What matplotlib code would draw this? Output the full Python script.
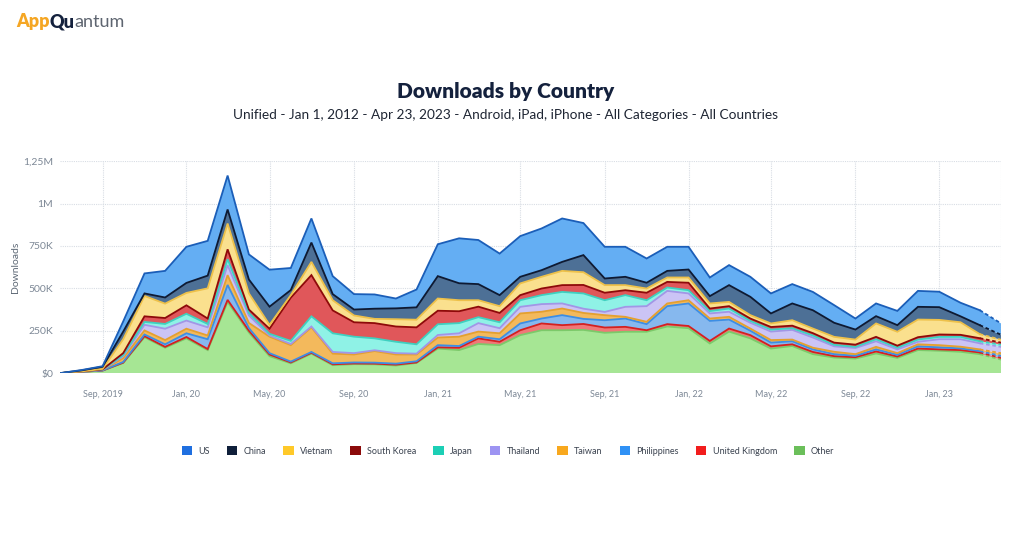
import matplotlib
matplotlib.use("Agg")
import matplotlib.pyplot as plt
from matplotlib.patches import Patch
import numpy as np
import pandas as pd

plt.rcParams["font.family"] = ["Lato", "DejaVu Sans"]

# monthly points, Jul 2019 .. Apr 2023 (values in thousands of downloads)
months = pd.date_range("2019-07-01", "2023-04-01", freq="MS")

other = [0, 8, 15, 60, 212, 150, 205, 136, 420, 240, 100, 58, 115, 47, 53, 52, 45, 60, 145, 136,
         172, 165, 224, 253, 253, 255, 238, 244, 244, 275, 265, 175, 245, 205, 145, 160, 112, 92, 86, 116,
         90, 136, 132, 126, 112, 80]
uk = [0, 0, 0, 2, 6, 5, 8, 6, 12, 10, 10, 5, 5, 5, 4, 4, 5, 3, 7, 14,
      33, 20, 29, 40, 30, 35, 31, 29, 9, 14, 13, 15, 18, 19, 13, 10, 13, 8, 8, 12,
      8, 9, 8, 10, 10, 10]
philippines = [0, 0, 1, 4, 10, 15, 22, 58, 88, 16, 8, 5, 5, 6, 6, 6, 6, 7, 13, 10,
               10, 15, 40, 29, 59, 30, 43, 49, 36, 106, 133, 118, 53, 26, 22, 18, 15, 12, 8, 12,
               10, 13, 12, 10, 8, 12]
taiwan = [0, 1, 4, 22, 24, 25, 27, 22, 58, 30, 97, 97, 145, 57, 47, 68, 54, 40, 45, 55,
          30, 35, 59, 40, 39, 35, 30, 10, 14, 16, 19, 14, 16, 13, 15, 10, 10, 14, 10, 15,
          10, 12, 13, 10, 10, 16]
thailand = [0, 0, 0, 12, 33, 67, 48, 48, 59, 44, 7, 7, 5, 10, 8, 5, 8, 5, 15, 20,
            50, 30, 39, 45, 30, 25, 19, 59, 92, 74, 40, 30, 30, 34, 50, 57, 60, 32, 36, 33,
            22, 15, 35, 44, 36, 37]
japan = [0, 0, 1, 6, 17, 28, 40, 20, 35, 15, 10, 18, 60, 110, 97, 70, 67, 55, 63, 60,
         35, 35, 39, 53, 68, 90, 69, 69, 35, 20, 19, 14, 19, 11, 12, 10, 12, 9, 7, 12,
         10, 13, 14, 14, 12, 13]
south_korea = [0, 0, 1, 12, 33, 35, 50, 32, 58, 20, 30, 255, 243, 135, 85, 90, 90, 100, 80, 70,
               62, 55, 30, 39, 40, 50, 44, 29, 44, 33, 44, 15, 14, 14, 15, 15, 14, 13, 13, 14,
               12, 14, 14, 12, 18, 12]
vietnam = [0, 1, 3, 82, 120, 85, 73, 178, 152, 95, 23, 15, 78, 60, 40, 25, 43, 45, 72, 65,
           38, 40, 69, 69, 84, 75, 45, 30, 25, 26, 31, 30, 25, 20, 21, 32, 27, 34, 30, 79,
           82, 104, 86, 74, 24, 17]
china = [0, 6, 13, 45, 15, 36, 59, 75, 83, 82, 107, 30, 114, 36, 35, 60, 64, 73, 132, 100,
         95, 65, 39, 39, 53, 101, 39, 49, 34, 39, 47, 43, 99, 108, 59, 99, 108, 83, 59, 43,
         39, 75, 75, 35, 53, 29]
us = [0, 2, 3, 60, 118, 157, 213, 205, 200, 148, 218, 130, 142, 106, 91, 84, 58, 105, 188, 265,
      260, 245, 240, 246, 256, 189, 187, 177, 143, 142, 134, 110, 118, 118, 118, 114, 108, 104, 65, 75,
      84, 94, 91, 80, 88, 67]

names = ["Other", "United Kingdom", "Philippines", "Taiwan", "Thailand", "Japan",
         "South Korea", "Vietnam", "China", "US"]
series = [other, uk, philippines, taiwan, thailand, japan, south_korea, vietnam, china, us]
fills = ["#a6e694", "#ef7878", "#86b8ee", "#f3b95c", "#cbc4f5", "#8ff2e6",
         "#e0575a", "#fae08e", "#4d7096", "#64aef3"]
lines = ["#7cc96a", "#d42020", "#3d8ee4", "#e4a030", "#a296e6", "#3fd0c0",
         "#8e0a0a", "#eec14a", "#0e1a33", "#1b5eb8"]
legend_colors = ["#6bbf5a", "#f21d1d", "#2f91f5", "#f8a81e", "#9d94f2", "#1ccfb5",
                 "#8b0a0a", "#ffc929", "#0f1f3a", "#1f6fe0"]

xtick_dates = pd.date_range("2019-09-01", "2023-01-01", freq="4MS")
xtick_labels = ["Sep, 2019", "Jan, 20", "May, 20", "Sep, 20", "Jan, 21", "May, 21",
                "Sep, 21", "Jan, 22", "May, 22", "Sep, 22", "Jan, 23"]
ytick_vals = [0, 250, 500, 750, 1000, 1250]
ytick_labels = ["$0", "250K", "500K", "750K", "1M", "1,25M"]

fig = plt.figure(figsize=(10.24, 5.4), dpi=100)
ax = fig.add_axes([0.0586, 0.309, 0.9190, 0.3926])

data = np.array(series, dtype=float)
ax.stackplot(months, data, colors=fills, linewidth=0)
cum = np.cumsum(data, axis=0)
for row, c in zip(cum, lines):
    ax.plot(months[:-1], row[:-1], color=c, lw=1.3, solid_joinstyle="miter")
    ax.plot(months[-2:], row[-2:], color=c, lw=1.3, ls=(0, (2, 1.5)))

ax.set_xlim(months[0], months[-1])
ax.set_ylim(0, 1250)
ax.set_xticks(xtick_dates)
ax.set_xticklabels(xtick_labels, fontsize=6.5, color="#7d8896")
ax.set_yticks(ytick_vals)
ax.set_yticklabels(ytick_labels, fontsize=7.5, color="#7d8896")
ax.tick_params(length=0, pad=12, axis="x")
ax.tick_params(length=0, pad=5, axis="y")
ax.grid(True, color="#d8dde4", lw=0.8, ls=(0, (1, 1)))
ax.axvline(months[-1], color="#d8dde4", lw=0.8, ls=(0, (1, 1)))
ax.set_axisbelow(True)
for s in ax.spines.values():
    s.set_visible(False)
ax.axhline(0, color="#c8ced6", lw=0.8)
ax.set_ylabel("Downloads", fontsize=7.5, color="#5d6875", labelpad=0)
ax.yaxis.set_label_coords(-0.043, 0.5)

fig.text(0.494, 0.831, "Downloads by Country", ha="center", va="center",
         fontsize=15, fontweight="heavy", color="#14213d")
fig.text(0.494, 0.787, "Unified - Jan 1, 2012 - Apr 23, 2023 - Android, iPad, iPhone - All Categories - All Countries",
         ha="center", va="center", fontsize=9.8, color="#1e2533")

# logo
fig.canvas.draw()
r = fig.canvas.get_renderer()
x0 = 16 / 1024
parts = [("App", "#f5a623", "heavy"), ("Qu", "#14213d", "heavy"), ("antum", "#5e6570", "normal")]
for txt, col, w in parts:
    t = fig.text(x0, 1 - 22 / 540, txt, ha="left", va="center", fontsize=13, color=col, fontweight=w)
    bb = t.get_window_extent(renderer=r)
    x0 += bb.width / fig.bbox.width

handles = [Patch(facecolor=c, edgecolor="none") for c in legend_colors[::-1]]
fig.legend(handles, names[::-1], loc="center", bbox_to_anchor=(0.496, 0.165), ncol=10,
           frameon=False, fontsize=6.5, handlelength=1.15, handleheight=1.15,
           columnspacing=1.9, handletextpad=0.7, labelcolor="#3b4350")

fig.savefig("out.png", dpi=100, facecolor="white")
